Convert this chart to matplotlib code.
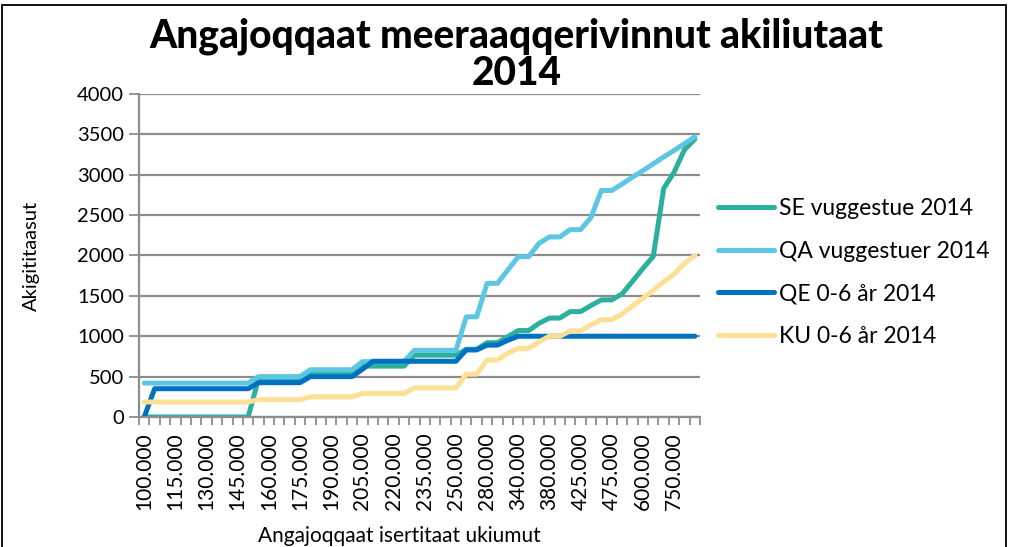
import matplotlib
matplotlib.use('Agg')
import matplotlib.pyplot as plt
from matplotlib.patches import Rectangle
import numpy as np

plt.rcParams['font.family'] = ['Lato', 'DejaVu Sans']

# indtægtsgrupper (kategorier paa x-aksen)
income = ['100.000', '105.000', '110.000', '115.000', '120.000', '125.000', '130.000',
          '135.000', '140.000', '145.000', '150.000', '155.000', '160.000', '165.000',
          '170.000', '175.000', '180.000', '185.000', '190.000', '195.000', '200.000',
          '205.000', '210.000', '215.000', '220.000', '225.000', '230.000', '235.000',
          '240.000', '245.000', '250.000', '260.000', '270.000', '280.000', '300.000',
          '320.000', '340.000', '350.000', '365.000', '380.000', '395.000', '410.000',
          '425.000', '440.000', '460.000', '475.000', '500.000', '550.000', '600.000',
          '650.000', '700.000', '750.000', '800.000', '900.000']

se_vuggestue = [0, 0, 0, 0, 0, 0, 0, 0, 0, 0, 0,
                470, 470, 470, 470, 470,
                560, 560, 560, 560, 560,
                630, 630, 630, 630, 630,
                765, 765, 765, 765, 765,
                838, 838, 920, 920, 995, 1070, 1070, 1160, 1225, 1225,
                1305, 1305, 1380, 1450, 1450, 1525, 1680, 1840, 1990,
                2830, 3030, 3310, 3440]

qa_vuggestuer = [420, 420, 420, 420, 420, 420, 420, 420, 420, 420, 420,
                 500, 500, 500, 500, 500,
                 585, 585, 585, 585, 585,
                 685, 685, 685, 685, 685,
                 825, 825, 825, 825, 825,
                 1240, 1240, 1655, 1655, 1820, 1985, 1985, 2150, 2230, 2230,
                 2320, 2320, 2470, 2805, 2805, 2885, 2970, 3050, 3135,
                 3220, 3300, 3385, 3470]

qe_0_6 = [0, 350, 350, 350, 350, 350, 350, 350, 350, 350, 350,
          425, 425, 425, 425, 425,
          500, 500, 500, 500, 500,
          590, 690, 690, 690, 690,
          690, 690, 690, 690, 690,
          830, 830, 890, 890, 950, 1000, 1000, 1000, 1000, 1000,
          1000, 1000, 1000, 1000, 1000, 1000, 1000, 1000, 1000,
          1000, 1000, 1000, 1000]

ku_0_6 = [185, 185, 185, 185, 185, 185, 185, 185, 185, 185, 185,
          215, 215, 215, 215, 215,
          250, 250, 250, 250, 250,
          290, 290, 290, 290, 290,
          360, 360, 360, 360, 360,
          530, 530, 706, 706, 790, 850, 850, 930, 1000, 1000,
          1065, 1065, 1140, 1205, 1205, 1275, 1375, 1470, 1570,
          1675, 1770, 1900, 2000]

series_names = ['SE vuggestue 2014', 'QA vuggestuer 2014', 'QE 0-6 år 2014', 'KU 0-6 år 2014']
series_colors = ['#2BB09E', '#5DC6E2', '#0070C0', '#FDDF96']

fig = plt.figure(figsize=(10.09, 5.47), dpi=100)
ax = fig.add_axes([0.1378, 0.2377, 0.5560, 0.5905])

x = np.arange(len(income))
for vals, name, col in zip([se_vuggestue, qa_vuggestuer, qe_0_6, ku_0_6], series_names, series_colors):
    ax.plot(x, vals, color=col, lw=3.6, label=name,
            solid_capstyle='round', solid_joinstyle='round')

grid_col = '#8C8C8C'
ax.set_xlim(-0.5, len(income) - 0.5)
ax.set_ylim(0, 4000)
ax.set_yticks(np.arange(0, 4001, 500))
ax.yaxis.grid(True, color=grid_col, lw=1.6)
ax.set_axisbelow(True)
for s in ['top', 'right']:
    ax.spines[s].set_visible(False)
for s in ['left', 'bottom']:
    ax.spines[s].set_color(grid_col)
    ax.spines[s].set_linewidth(1.6)

# tickmarks mellem kategorier, labels paa hver tredje
ax.set_xticks(np.arange(-0.5, len(income), 1))
ax.set_xticklabels([])
ax.set_xticks(x[::3], minor=True)
ax.set_xticklabels(income[::3], minor=True, rotation=90, fontsize=15)
ax.tick_params(axis='x', which='major', length=6, width=1.3, color=grid_col)
ax.tick_params(axis='x', which='minor', length=0, pad=11)
ax.tick_params(axis='y', length=7, width=1.3, color=grid_col, labelsize=14.5, pad=4)

ax.set_ylabel('Akigititaasut', fontsize=14.5)
ax.yaxis.set_label_coords(-0.176, 0.5)
fig.text(0.396, 0.02, 'Angajoqqaat isertitaat ukiumut', ha='center', va='center', fontsize=15)

fig.text(0.512, 0.9, 'Angajoqqaat meeraaqqerivinnut akiliutaat\n2014', ha='center', va='center',
         fontsize=28, fontweight='black', linespacing=1.0)

ax.legend(loc='center left', bbox_to_anchor=(1.032, 0.447), frameon=False, fontsize=16.5,
          handlelength=2.45, handletextpad=0.2, labelspacing=0.95, borderaxespad=0, borderpad=0)

fig.patches.append(Rectangle((0.002, -0.01), 0.995, 1.0, transform=fig.transFigure,
                             fill=False, edgecolor='black', lw=1.3))

fig.savefig('out.png', dpi=100)
